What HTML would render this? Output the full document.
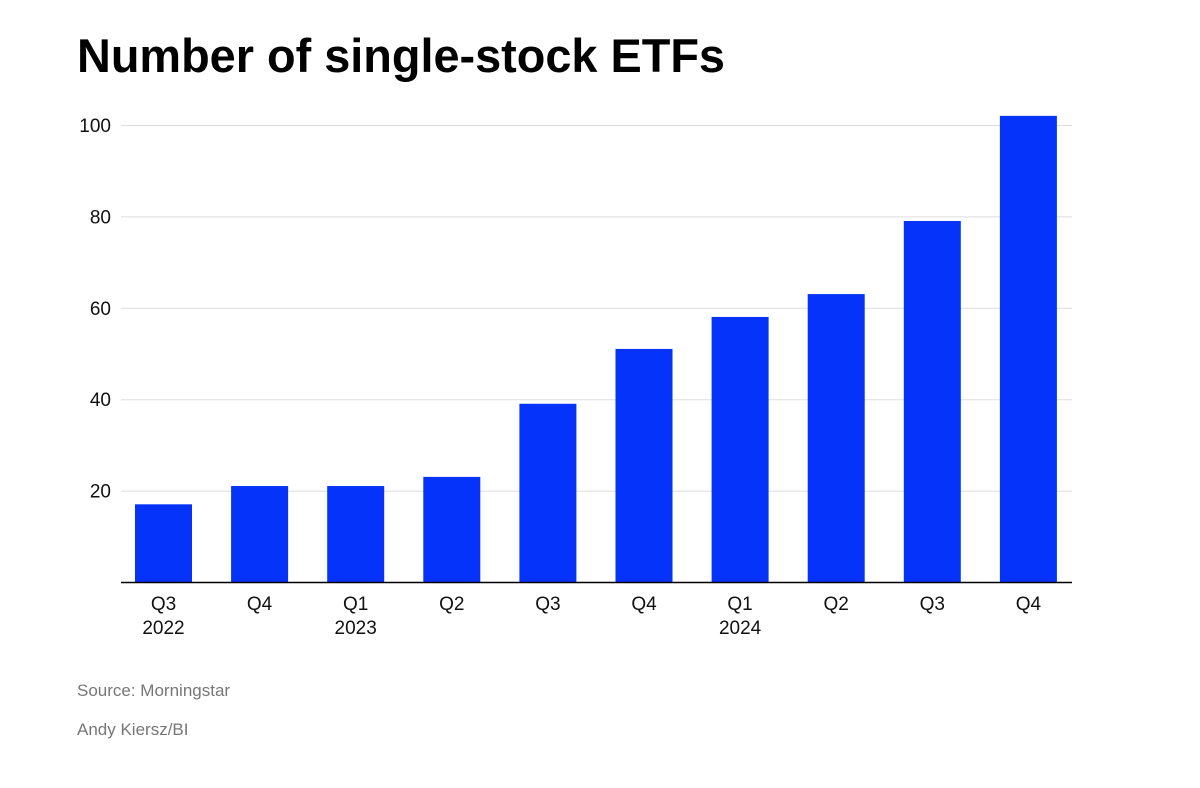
<!DOCTYPE html>
<html><head><meta charset="utf-8"><style>
html,body{margin:0;padding:0;background:#fff;}
svg{display:block;font-family:"Liberation Sans",sans-serif;}
</style></head><body>
<svg id="chart" width="1200" height="788" viewBox="0 0 1200 788" xmlns="http://www.w3.org/2000/svg">
<rect width="1200" height="788" fill="#fff"/>
<text x="77" y="72" font-size="47" font-weight="bold" fill="#000" textLength="648" lengthAdjust="spacingAndGlyphs">Number of single-stock ETFs</text>
<g id="grid"></g><g id="bars"></g><g id="xlabels"></g>
<line x1="121" x2="1072" y1="582.5" y2="582.5" stroke="#000" stroke-width="1.5"/>
<text x="77" y="696" font-size="17" fill="#777">Source: Morningstar</text>
<text x="77" y="735" font-size="17" fill="#777">Andy Kiersz/BI</text>
</svg>
<script>
const quarters=["Q3","Q4","Q1","Q2","Q3","Q4","Q1","Q2","Q3","Q4"];
const years=["2022","","2023","","","","2024","","",""];
const etfCounts=[17,21,21,23,39,51,58,63,79,102];
const yTicks=[20,40,60,80,100];
const NS="http://www.w3.org/2000/svg";
const y0=582, pxPer=4.57, x0=163.5, step=96.1, bw=57;
const y=v=>y0-v*pxPer, x=i=>x0+i*step;
function mk(t,a,p){const e=document.createElementNS(NS,t);for(const k in a)e.setAttribute(k,a[k]);p.appendChild(e);return e;}
const grid=document.getElementById('grid'),bars=document.getElementById('bars'),xl=document.getElementById('xlabels');
yTicks.forEach(v=>{
 const l=mk('line',{x1:121,x2:1072,y1:y(v)+0.5,y2:y(v)+0.5,stroke:'#ddd','stroke-width':1},grid);
 
 
 const t=mk('text',{x:111,y:y(v)+7,'font-size':19,'text-anchor':'end',fill:'#111'},grid);
 t.textContent=v;
 
 
});
etfCounts.forEach((v,i)=>{
 const r=mk('rect',{x:x(i)-bw/2,y:y(v),width:bw,height:y0-y(v),fill:'#0533fa'},bars);
 
 
 const t=mk('text',{x:x(i),y:610,'font-size':19,'text-anchor':'middle',fill:'#111'},xl);
 t.textContent=quarters[i];
 
 
 if(years[i]){
  const t2=mk('text',{x:x(i),y:634,'font-size':19,'text-anchor':'middle',fill:'#111'},xl);
  t2.textContent=years[i];
  
  
 }
});
</script>
</body></html>
